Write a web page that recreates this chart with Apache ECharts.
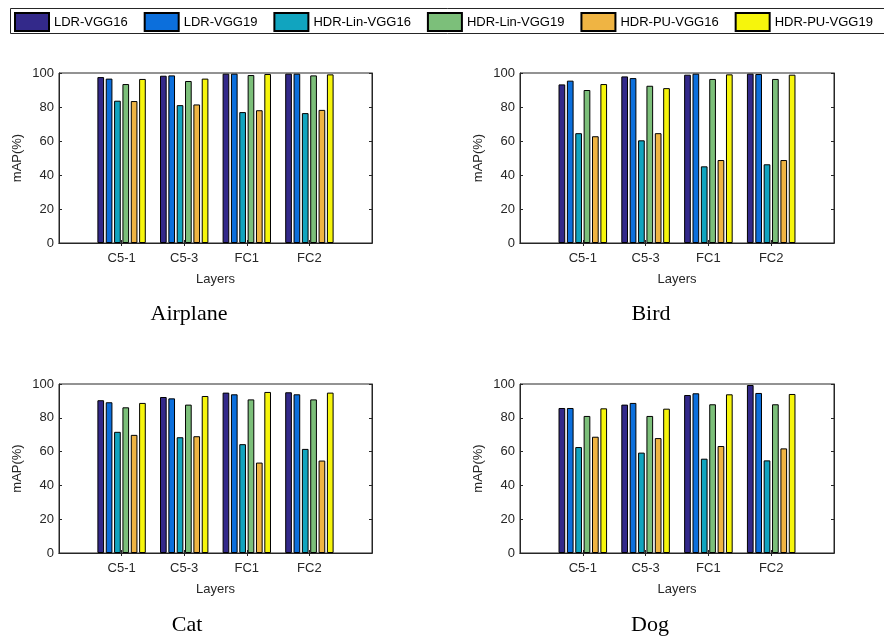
<!DOCTYPE html>
<html><head><meta charset="utf-8">
<script src="https://cdn.jsdelivr.net/npm/echarts@6/dist/echarts.min.js"></script>
<style>html,body{margin:0;padding:0;background:#fff}#c{width:884px;height:642px}</style>
</head><body><div id="c"></div>
<script>
const categories = ['C5-1', 'C5-3', 'FC1', 'FC2'];
const seriesNames = ['LDR-VGG16', 'LDR-VGG19', 'HDR-Lin-VGG16', 'HDR-Lin-VGG19', 'HDR-PU-VGG16', 'HDR-PU-VGG19'];
const colors = ['#33298A', '#0C6FDC', '#11A4BF', '#7CBF7A', '#EFB443', '#F6F50C'];
const yTicks = [0, 20, 40, 60, 80, 100];
const panelTitles = ['Airplane', 'Bird', 'Cat', 'Dog'];
// rows follow seriesNames, columns follow categories
const airplane = [
  [97.6, 98.4, 99.6, 99.6],
  [96.7, 98.6, 99.6, 99.6],
  [83.7, 81.1, 77.0, 76.4],
  [93.5, 95.3, 98.8, 98.6],
  [83.5, 81.5, 78.1, 78.3],
  [96.5, 96.7, 99.4, 99.2]
];
const bird = [
  [93.3, 98.0, 99.0, 99.6],
  [95.5, 97.0, 99.6, 99.4],
  [64.6, 60.4, 45.1, 46.3],
  [90.0, 92.5, 96.5, 96.5],
  [62.8, 64.6, 48.8, 48.8],
  [93.5, 91.1, 99.2, 99.0]
];
const cat = [
  [90.4, 92.3, 94.9, 95.1],
  [89.2, 91.5, 93.9, 93.9],
  [71.7, 68.5, 64.4, 61.6],
  [86.2, 87.8, 90.9, 90.9],
  [69.9, 69.1, 53.5, 54.7],
  [88.8, 92.9, 95.3, 94.9]
];
const dog = [
  [85.8, 87.8, 93.5, 99.4],
  [85.8, 88.8, 94.5, 94.7],
  [62.7, 59.4, 55.8, 54.8],
  [81.1, 81.1, 88.0, 88.0],
  [68.8, 68.0, 63.3, 61.9],
  [85.6, 85.4, 93.9, 94.1]
];
const panels = [airplane, bird, cat, dog];

const FONT = 'Liberation Sans';
const AX = '#262626';
const grids = [
  {left: 59, top: 73, width: 313, height: 170},
  {left: 520, top: 73, width: 314, height: 170},
  {left: 59, top: 384, width: 313, height: 169},
  {left: 520, top: 384, width: 314, height: 169}
];
const captionPos = [[189, 314], [651, 314], [187, 625], [650, 625]];

const paddedCats = [''].concat(categories, ['']);
const tickFilter = (i, v) => v !== '';
const option = {
  backgroundColor: '#fff',
  animation: false,
  color: colors,
  legend: {
    left: 10, top: 9, orient: 'horizontal',
    data: seriesNames,
    selectedMode: false,
    icon: 'rect',
    itemWidth: 34, itemHeight: 18, itemGap: 16,
    padding: [3, 4],
    textStyle: {fontFamily: FONT, fontSize: 13, color: '#000'}
  },
  grid: [], xAxis: [], yAxis: [], series: [],
  graphic: [{
    type: 'rect', shape: {x: 10.5, y: 8.5, width: 900, height: 25},
    style: {fill: 'none', stroke: AX, lineWidth: 1}, silent: true, z: 100
  }]
};
grids.forEach((g, k) => {
  option.grid.push(Object.assign({show: true, borderColor: AX, borderWidth: 1, backgroundColor: '#fff'}, g));
  option.xAxis.push({
    type: 'category', gridIndex: k, data: paddedCats, boundaryGap: false,
    name: 'Layers', nameLocation: 'middle', nameGap: 30,
    nameTextStyle: {fontFamily: FONT, fontSize: 13, color: AX},
    axisLine: {lineStyle: {color: AX}},
    axisTick: {inside: true, length: 3, interval: tickFilter, lineStyle: {color: AX}},
    axisLabel: {fontFamily: FONT, fontSize: 13, color: AX, margin: 9, interval: 0},
    splitLine: {show: false}
  });
  option.xAxis.push({
    type: 'category', gridIndex: k, data: paddedCats, boundaryGap: false, position: 'top',
    axisLine: {lineStyle: {color: AX}},
    axisTick: {inside: true, length: 3, interval: tickFilter, lineStyle: {color: AX}},
    axisLabel: {show: false}, splitLine: {show: false}
  });
  option.yAxis.push({
    type: 'value', gridIndex: k, min: yTicks[0], max: yTicks[yTicks.length - 1], interval: yTicks[1] - yTicks[0],
    name: 'mAP(%)', nameLocation: 'middle', nameGap: 35,
    nameTextStyle: {fontFamily: FONT, fontSize: 13, color: AX},
    axisLine: {show: true, lineStyle: {color: AX}},
    axisTick: {show: true, inside: true, length: 3, lineStyle: {color: AX}},
    axisLabel: {fontFamily: FONT, fontSize: 13, color: AX, margin: 5},
    splitLine: {show: false}
  });
  option.yAxis.push({
    type: 'value', gridIndex: k, position: 'right', min: yTicks[0], max: yTicks[yTicks.length - 1], interval: yTicks[1] - yTicks[0],
    axisLine: {show: true, lineStyle: {color: AX}},
    axisTick: {show: true, inside: true, length: 3, lineStyle: {color: AX}},
    axisLabel: {show: false}, splitLine: {show: false}
  });
  const rows = panels[k];
  rows.forEach((vals, s) => {
    option.series.push({
      type: 'bar', name: seriesNames[s],
      xAxisIndex: 2 * k, yAxisIndex: 2 * k,
      data: ['-'].concat(vals, ['-']),
      barGap: '25%', barCategoryGap: '22.7%',
      itemStyle: {color: colors[s], borderColor: '#000', borderWidth: 1},
      emphasis: {disabled: true}
    });
  });
  option.graphic.push({
    type: 'text', x: captionPos[k][0], y: captionPos[k][1],
    style: {text: panelTitles[k], font: '22px "Liberation Serif"', fill: '#000', textAlign: 'center', textVerticalAlign: 'middle'}
  });
});
const chart = echarts.init(document.getElementById('c'), null, {renderer: 'canvas'});
chart.setOption(option);
</script>
</body></html>
